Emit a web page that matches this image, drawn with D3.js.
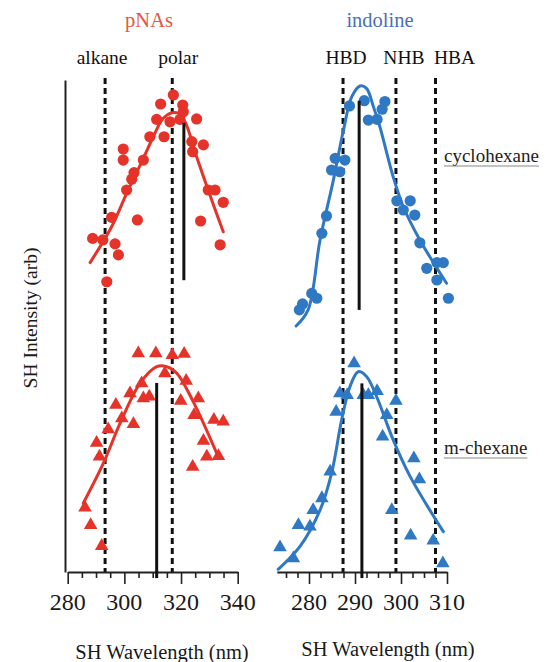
<!DOCTYPE html>
<html>
<head>
<meta charset="utf-8">
<script src="https://cdn.jsdelivr.net/npm/d3@7"></script>
<style>
  body { margin: 0; background: #fff; }
  svg, svg text { font-family: "Liberation Serif", "DejaVu Serif", serif !important; }
</style>
</head>
<body>
<div class="container"></div>
<script>
// ---- data (wavelength in nm, intensity in arbitrary units 0-100 per row) ----
var pnaCycloNm = [317.3, 312.8, 320.6, 320.8, 311.4, 316.1, 319.6, 325.5, 309.0, 314.0, 323.8, 327.9, 324.1, 299.6, 299.6, 306.7,
	303.4, 302.6, 300.8, 329.6, 332.0, 334.9, 295.5, 304.6, 326.9, 288.8, 292.4, 296.7, 297.9, 333.8, 293.8];
var pnaCycloI = [93.2, 89.1, 88.6, 85.6, 82.1, 81.0, 82.1, 82.3, 74.2, 74.2, 72.0, 70.5, 67.4, 68.6, 63.6, 63.6,
	57.9, 54.9, 50.0, 50.0, 50.0, 44.4, 37.6, 36.4, 35.9, 28.0, 27.3, 25.5, 20.5, 25.1, 8.3];
var pnaCycloFitNm = [287.9, 295.5, 300.8, 306.7, 310.2, 313.7, 316.7, 319.0, 321.4, 325.5, 330.2, 334.9];
var pnaCycloFitI = [17.0, 33.3, 48.5, 64.4, 74.2, 82.6, 85.1, 84.9, 81.0, 65.1, 47.7, 31.0];

var pnaHexNm = [304.9, 311.1, 316.9, 321.1, 314.3, 321.8, 306.1, 302.0, 306.7, 308.8, 319.9, 326.1, 297.0, 299.1,
	303.2, 324.6, 331.6, 334.9, 294.3, 290.2, 291.2, 327.9, 329.1, 333.2, 324.1, 286.1, 288.1, 292.0];
var pnaHexI = [100.8, 100.8, 100.0, 100.5, 91.7, 88.3, 87.1, 82.6, 80.3, 81.1, 79.2, 80.3, 77.3, 71.2,
	68.6, 72.7, 70.5, 69.7, 66.2, 60.1, 53.8, 61.0, 53.8, 54.1, 49.2, 30.6, 22.7, 13.2];
var pnaHexFitNm = [285.5, 292.6, 298.5, 305.5, 311.4, 314.9, 318.5, 324.3, 332.6];
var pnaHexFitI = [32.6, 50.8, 69.0, 87.1, 94.7, 94.7, 91.7, 78.8, 55.3];

var indCycloNm = [288.8, 292.0, 296.5, 295.9, 292.9, 294.8, 285.7, 287.8, 284.9, 286.7, 299.1, 302.0, 300.5, 303.0,
	283.8, 282.8, 304.1, 305.6, 307.8, 309.2, 307.8, 310.3, 280.6, 281.7, 278.6, 277.9];
var indCycloI = [88.2, 90.6, 90.2, 86.7, 81.8, 82.1, 64.4, 63.6, 59.1, 58.3, 45.1, 45.1, 40.9, 38.6,
	38.2, 30.3, 26.0, 14.4, 17.0, 17.0, 9.1, 0.8, 3.0, 0.8, -1.8, -4.5];
var indCycloFitNm = [277.2, 279.8, 282.4, 285.3, 287.5, 289.3, 291.1, 292.5, 294.0, 295.4, 298.3, 300.5, 304.1, 309.9];
var indCycloFitI = [-11.8, -4.5, 27.3, 54.5, 77.3, 92.4, 97.3, 96.2, 87.9, 78.8, 56.0, 42.4, 27.3, 7.6];

var indHexNm = [289.8, 286.7, 288.3, 291.8, 292.9, 294.8, 298.9, 285.9, 296.9, 296.0, 302.8, 304.0, 284.6, 282.8,
	280.9, 280.2, 277.7, 298.0, 302.1, 307.0, 273.7, 276.6, 309.1];
var indHexI = [96.2, 82.6, 81.8, 81.8, 81.8, 83.6, 79.2, 74.2, 72.7, 62.9, 53.0, 43.5, 47.0, 34.9,
	29.5, 22.0, 22.7, 29.5, 17.9, 15.6, 12.6, 7.6, 5.3];
var indHexFitNm = [273.3, 278.0, 282.4, 284.9, 287.1, 288.9, 290.7, 292.5, 294.7, 298.3, 302.0, 309.2];
var indHexFitI = [2.6, 12.9, 29.5, 46.2, 70.5, 85.6, 92.4, 90.2, 81.1, 61.4, 44.7, 19.7];

// peak positions (solid sticks): [nm, top intensity, bottom intensity]
var pnaCycloStick = [321.0, 80.5, 9.0];
var pnaHexStick = [311.4, 87.3, -1.4];
var indCycloStick = [290.9, 90.6, -4.5];
var indHexStick = [291.5, 87.1, -1.4];

// reference wavelengths (dashed lines)
var pnaRefNames = ["alkane", "polar"];
var pnaRefNm = [293.2, 316.9];
var indRefNames = ["HBD", "NHB", "HBA"];
var indRefNm = [287.4, 298.9, 307.5];

var pnaTicks = [280, 300, 320, 340];
var indTicks = [280, 290, 300, 310];

var panelTitles = ["pNAs", "indoline"];
var solventNames = ["cyclohexane", "m-chexane"];
var xTitle = "SH Wavelength (nm)";
var yTitle = "SH Intensity (arb)";

// ---- layout ----
var W = 553, H = 662;
var red = "#e5332a", blue = "#2f78c4";
var axisY = 572, guideTop = 78;
var serif = "'Liberation Serif', 'DejaVu Serif', serif";

var svg = d3.select(".container").append("svg")
	.attr("width", W)
	.attr("height", H)
	.attr("font-family", serif);

var xL = d3.scaleLinear().domain([280, 340]).range([67.7, 237.7]);
var xR = d3.scaleLinear().domain([273, 310]).range([276.8, 447]);
var yTop = d3.scaleLinear().domain([0, 100]).range([300, 80]);
var yBot = d3.scaleLinear().domain([0, 100]).range([575, 355]);

var zip = function (a, b) {
	return a.map(function (v, i) { return [v, b[i]]; });
};

var addText = function (x, y, str, size, color) {
	return svg.append("text")
		.attr("x", x).attr("y", y)
		.attr("font-family", serif)
		.attr("font-size", size)
		.attr("fill", color || "#1a1a1a")
		.text(str);
};

// left intensity axis line (no ticks)
var yFull = d3.scaleLinear().domain([0, 1]).range([axisY, 80]);
svg.append("g")
	.attr("transform", "translate(65,0)")
	.call(d3.axisLeft(yFull).tickValues([]).tickSizeOuter(0))
	.select(".domain").attr("stroke", "#222").attr("stroke-width", 2);

// x axes
var drawAxis = function (scale, minorStep, start, majorTicks) {
	var minor = d3.range(start, scale.domain()[1] + 0.01, minorStep);
	var g = svg.append("g").attr("transform", "translate(0," + axisY + ")");
	g.call(d3.axisBottom(scale).tickValues(minor).tickSize(6).tickSizeOuter(0).tickFormat(""));
	g.select(".domain").attr("stroke", "#222").attr("stroke-width", 2);
	g.selectAll(".tick line").attr("stroke", "#222").attr("stroke-width", 1.6)
		.attr("y2", function (d) { return majorTicks.indexOf(d) >= 0 ? 12 : 6; });
	majorTicks.forEach(function (d) {
		addText(scale(d), axisY + 38, d, 24).attr("text-anchor", "middle");
	});
};
drawAxis(xL, 5, 280, pnaTicks);
drawAxis(xR, 2.5, 275, indTicks);

// dashed reference lines + labels
var drawGuides = function (scale, names, values, dxs) {
	svg.selectAll(null).data(values).enter().append("line")
		.attr("x1", function (d) { return scale(d); })
		.attr("x2", function (d) { return scale(d); })
		.attr("y1", guideTop)
		.attr("y2", axisY)
		.attr("stroke", "#111")
		.attr("stroke-width", 3)
		.attr("stroke-dasharray", "6,4");
	names.forEach(function (n, i) {
		addText(scale(values[i]) + dxs[i], 64, n, 19.5, "#111").attr("text-anchor", "middle");
	});
};
drawGuides(xL, pnaRefNames, pnaRefNm, [-3, 6]);
drawGuides(xR, indRefNames, indRefNm, [3, 8, 19]);

// fit lines
var drawFit = function (xs, ys, xNm, yI, color) {
	var line = d3.line()
		.x(function (d) { return xs(d[0]); })
		.y(function (d) { return ys(d[1]); })
		.curve(d3.curveCatmullRom.alpha(0.5));
	svg.append("path")
		.datum(zip(xNm, yI))
		.attr("d", line)
		.attr("fill", "none")
		.attr("stroke", color)
		.attr("stroke-width", 3)
		.attr("stroke-linecap", "round");
};
drawFit(xL, yTop, pnaCycloFitNm, pnaCycloFitI, red);
drawFit(xL, yBot, pnaHexFitNm, pnaHexFitI, red);
drawFit(xR, yTop, indCycloFitNm, indCycloFitI, blue);
drawFit(xR, yBot, indHexFitNm, indHexFitI, blue);

// markers
var drawCircles = function (xs, ys, xNm, yI, color) {
	svg.append("g").selectAll("circle").data(zip(xNm, yI)).enter().append("circle")
		.attr("cx", function (d) { return xs(d[0]); })
		.attr("cy", function (d) { return ys(d[1]); })
		.attr("r", 5.6)
		.attr("fill", color);
};
var tri = d3.symbol().type(d3.symbolTriangle).size(80);
var drawTriangles = function (xs, ys, xNm, yI, color) {
	svg.append("g").selectAll("path").data(zip(xNm, yI)).enter().append("path")
		.attr("d", tri)
		.attr("transform", function (d) { return "translate(" + xs(d[0]) + "," + ys(d[1]) + ")"; })
		.attr("fill", color);
};
drawCircles(xL, yTop, pnaCycloNm, pnaCycloI, red);
drawTriangles(xL, yBot, pnaHexNm, pnaHexI, red);
drawCircles(xR, yTop, indCycloNm, indCycloI, blue);
drawTriangles(xR, yBot, indHexNm, indHexI, blue);

// peak sticks
var drawStick = function (xs, ys, s) {
	svg.append("line")
		.attr("x1", xs(s[0])).attr("x2", xs(s[0]))
		.attr("y1", ys(s[1])).attr("y2", ys(s[2]))
		.attr("stroke", "#111")
		.attr("stroke-width", 3);
};
drawStick(xL, yTop, pnaCycloStick);
drawStick(xL, yBot, pnaHexStick);
drawStick(xR, yTop, indCycloStick);
drawStick(xR, yBot, indHexStick);

// titles
addText(149, 27, panelTitles[0], 20.5, "#e8563f").attr("text-anchor", "middle");
addText(380, 27, panelTitles[1], 20.5, "#4a70b4").attr("text-anchor", "middle");

// solvent labels (underlined)
[[162, solventNames[0]], [454, solventNames[1]]].forEach(function (s) {
	var t = addText(444, s[0], s[1], 19, "#222");
	var w = t.node().getComputedTextLength();
	svg.append("line").attr("x1", 444).attr("x2", 444 + w)
		.attr("y1", s[0] + 4).attr("y2", s[0] + 4)
		.attr("stroke", "#888").attr("stroke-width", 1);
});

// axis titles
addText(162, 659, xTitle, 20.5).attr("text-anchor", "middle");
addText(388, 656, xTitle, 20.5).attr("text-anchor", "middle");
addText(0, 0, yTitle, 19.5)
	.attr("transform", "translate(37,318) rotate(-90)")
	.attr("text-anchor", "middle");
</script>
</body>
</html>
